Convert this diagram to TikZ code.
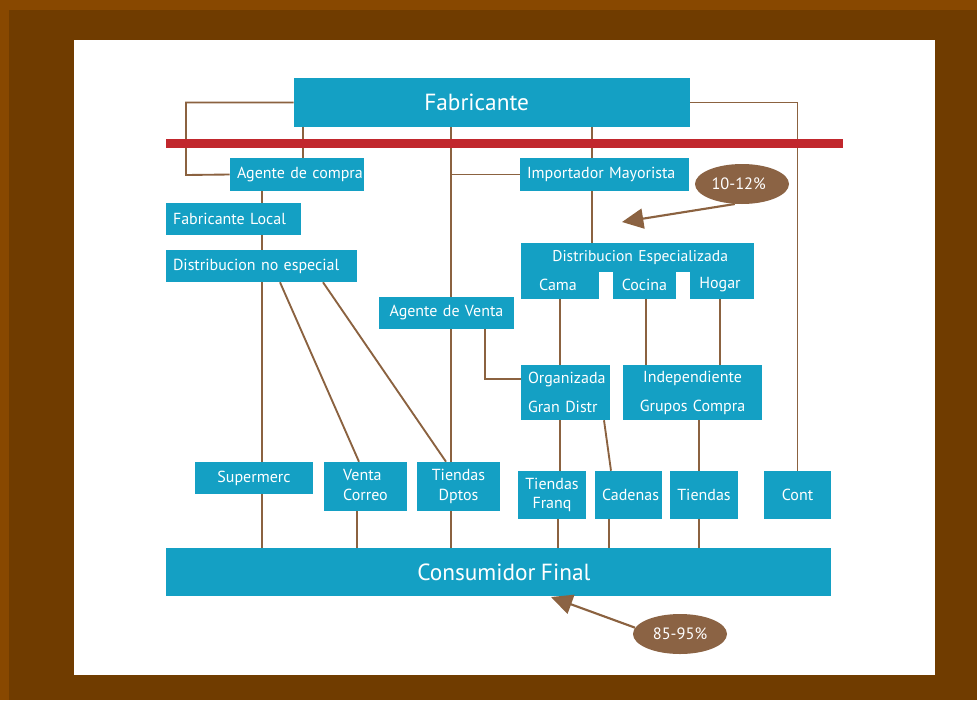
\documentclass[tikz,border=0pt]{standalone}
\usepackage{fontspec}
\setmainfont{PT Sans}
\usetikzlibrary{shapes.geometric,arrows.meta}
\definecolor{teal1}{HTML}{14A0C4}
\definecolor{lnbrown}{HTML}{8B6240}
\definecolor{elbrown}{HTML}{8B6344}
\definecolor{redbar}{HTML}{C1272D}
\definecolor{bgout}{HTML}{884800}
\definecolor{bgin}{HTML}{703C00}
\pgfdeclarelayer{bg}
\pgfdeclarelayer{lines}
\pgfsetlayers{bg,lines,main}
% align, name, x1, y1, x2, y2, text
\newcommand\boxnode[7][left]{%
  \node[box, align=#1, text width={(#5-#3-14)*0.75pt}, minimum height={(#6-#4)*0.75pt}]
    (#2) at ({(#3+#5)/2},{(#4+#6)/2}) {#7};}
\begin{document}
\begin{tikzpicture}[x=0.75pt,y=-0.75pt,
  box/.style={fill=teal1, text=white, inner xsep=5.25pt, inner ysep=0pt,
              font=\fontsize{12}{14.3}\selectfont, anchor=center},
  conn/.style={draw=lnbrown, line width=1.4pt},
  pct/.style={ellipse, fill=elbrown, text=white, inner sep=0pt,
              minimum width=70.5pt, minimum height=30pt,
              font=\fontsize{12.3}{14}\selectfont},
  arr/.style={draw=lnbrown, line width=1.6pt,
              -{Triangle[length=16pt, width=15pt, fill=elbrown]}}]
\useasboundingbox (0,0) rectangle (977,700);
% background frame
\begin{pgfonlayer}{bg}
\fill[bgout] (0,0) rectangle (977,700);
\fill[bgin] (9,10) rectangle (977,700);
\fill[white] (74,40) rectangle (935,675);
\end{pgfonlayer}

% helper coordinates
\foreach \xx in {186,262,280,303,323,357,359,446,451,485,558,560,592,604,609,611,646,699,720}
  {\coordinate (X\xx) at (\xx,0);}
\coordinate (Y379) at (0,379);
\coordinate (cL) at (186,175);

% boxes
\boxnode[center]{fab}{294}{78}{690}{127}{\fontsize{17.5}{20}\selectfont\hspace*{-23pt}Fabricante}
\boxnode{agc}{230}{158}{364}{191}{\mbox{Agente de compra}}
\boxnode{imp}{520}{158}{689}{191}{\mbox{Importador Mayorista}}
\boxnode{fl}{166}{203}{301}{235}{Fabricante Local}
\boxnode{dne}{166}{250}{357}{282}{\mbox{Distribucion no especial}}
\boxnode[center]{agv}{379}{297}{514}{329}{Agente de Venta}
\boxnode[center]{dse}{521}{243}{754}{272}{\fontsize{11.7}{14}\selectfont\hspace*{4pt}Distribucion Especializada}
\boxnode[center]{cam}{521}{271}{599}{299}{\hspace*{-3pt}Cama}
\boxnode[center]{coc}{613}{271}{676}{299}{Cocina}
\boxnode[center]{hog}{690}{271}{754}{299}{\hspace*{-3pt}Hogar}
\boxnode{org}{521}{365}{610}{420}{Organizada\\[7.5pt]Gran Distr}
\boxnode[center]{ind}{623}{365}{762}{420}{Independiente\\[7.5pt]Grupos Compra}
\boxnode[center]{sup}{195}{462}{313}{494}{Supermerc}
\boxnode[center]{vc}{324}{462}{407}{511}{\begin{tabular}{@{}l@{}}Venta\\[0.5pt]Correo\end{tabular}}
\boxnode[center]{tdp}{417}{462}{500}{511}{Tiendas\\[0.5pt]Dptos}
\boxnode[center]{tfr}{518}{471}{586}{519}{Tiendas\\[0.5pt]Franq}
\boxnode[center]{cad}{595}{471}{662}{519}{Cadenas}
\boxnode[center]{tie}{670}{471}{738}{519}{Tiendas}
\boxnode[center]{cont}{764}{471}{831}{519}{Cont}
\boxnode[center]{cons}{166}{548}{831}{596}{\fontsize{17.5}{20}\selectfont\hspace*{8pt}Consumidor Final}

% red bar
\fill[redbar] (166,139) rectangle (843,148);

% connectors
\begin{pgfonlayer}{lines}
\draw[conn] (fab.west) -| (cL) -- (agc.west);
\draw[conn] (fab.east) -| (cont.north);
\draw[conn] (fab.south -| X303) -- (agc.north -| X303);
\draw[conn] (fab.south -| X451) -- (agv.north -| X451);
\draw[conn] (imp.west) -- (imp.west -| X451);
\draw[conn] (fab.south -| X592) -- (imp.north -| X592);
\draw[conn] (imp.south -| X592) -- (dse.north -| X592);
\draw[conn] (agc.south -| X262) -- (fl.north -| X262);
\draw[conn] (fl.south -| X262) -- (dne.north -| X262);
\draw[conn] (dne.south -| X262) -- (sup.north -| X262);
\draw[conn] (dne.south -| X280) -- (vc.north -| X359);
\draw[conn] (dne.south -| X323) -- (tdp.north -| X446);
\draw[conn] (agv.south -| X451) -- (tdp.north -| X451);
\draw[conn] (agv.south -| X485) |- (org.west |- Y379);
\draw[conn] (cam.south -| X560) -- (org.north -| X560);
\draw[conn] (coc.south -| X646) -- (ind.north -| X646);
\draw[conn] (hog.south -| X720) -- (ind.north -| X720);
\draw[conn] (org.south -| X560) -- (tfr.north -| X560);
\draw[conn] (org.south -| X604) -- (cad.north -| X611);
\draw[conn] (ind.south -| X699) -- (tie.north -| X699);
\draw[conn] (sup.south -| X262) -- (cons.north -| X262);
\draw[conn] (vc.south -| X357) -- (cons.north -| X357);
\draw[conn] (tdp.south -| X451) -- (cons.north -| X451);
\draw[conn] (tfr.south -| X558) -- (cons.north -| X558);
\draw[conn] (cad.south -| X609) -- (cons.north -| X609);
\draw[conn] (tie.south -| X699) -- (cons.north -| X699);
\end{pgfonlayer}

% percentage ellipses and arrows
\node[pct] (p1) at (742,184) {\hspace*{-5pt}10-12\%};
\node[pct] (p2) at (680,634) {85-95\%};
\coordinate (t1) at (622,222);
\coordinate (t2) at (551,597);
\draw[arr] (p1.250) -- (t1);
\draw[arr] (p2.172) -- (t2);
\end{tikzpicture}
\end{document}
